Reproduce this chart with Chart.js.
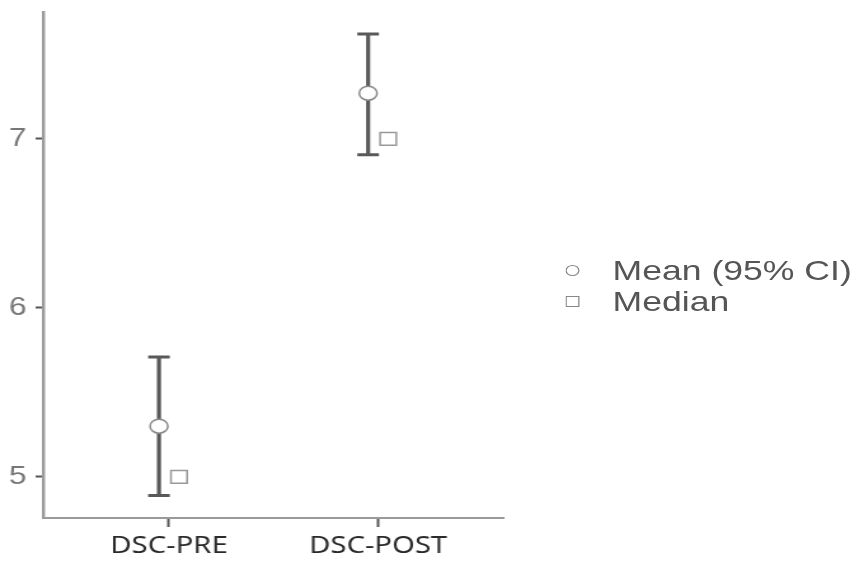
<!DOCTYPE html>
<html>
<head>
<meta charset="utf-8">
<script src="https://cdn.jsdelivr.net/npm/chart.js@4.4.1/dist/chart.umd.min.js"></script>
<style>
  html, body { margin: 0; padding: 0; background: #fff; overflow: hidden; }
  /* the reference picture is stretched horizontally, so draw narrow and stretch */
  #wrap { position: relative; width: 672px; height: 563px; transform: scaleX(1.2708); transform-origin: 0 0; }
  #legend { position: absolute; left: 445px; top: 255px; font-family: "Liberation Sans", Arial, sans-serif;
            font-size: 28px; color: #555; line-height: 31px; }
  .item { display: flex; align-items: center; white-space: nowrap; }
  .sym { width: 11px; height: 11px; border: 1.5px solid #888; box-sizing: border-box; margin-right: 26px; background: #fff; }
  .sym.circle { border-radius: 50%; }
</style>
</head>
<body>
<div id="wrap">
  <canvas id="chart" width="672" height="563"></canvas>
  <div id="legend"></div>
</div>
<script>
const categories = ['DSC-PRE', 'DSC-POST'];
const meanValues = [5.30, 7.27];
const ciLower = [4.89, 6.905];
const ciUpper = [5.71, 7.62];
const medianValues = [5, 7];
const yTickValues = [5, 6, 7];
const legendLabels = ['Mean (95% CI)', 'Median'];

const shift = 0.048; // mean drawn slightly left, median slightly right

const meanPoints = categories.map((c, i) => ({ x: i + 1 - shift, y: meanValues[i] }));
const medianPoints = categories.map((c, i) => ({ x: i + 1 + shift, y: medianValues[i] }));

// error bars for the 95% CI, drawn under the mean circles
const errorBars = {
    id: 'errorBars',
    beforeDatasetsDraw(chart) {
        const { ctx, scales: { x, y } } = chart;
        ctx.save();
        ctx.strokeStyle = '#595959';
        meanPoints.forEach((p, i) => {
            const px = x.getPixelForValue(p.x);
            const top = y.getPixelForValue(ciUpper[i]);
            const bot = y.getPixelForValue(ciLower[i]);
            ctx.lineWidth = 3.2;
            ctx.beginPath();
            ctx.moveTo(px, top);
            ctx.lineTo(px, bot);
            ctx.stroke();
            ctx.lineWidth = 3;
            ctx.beginPath();
            ctx.moveTo(px - 8.5, top);
            ctx.lineTo(px + 8.5, top);
            ctx.moveTo(px - 8.5, bot);
            ctx.lineTo(px + 8.5, bot);
            ctx.stroke();
        });
        ctx.restore();
    }
};

const chart = new Chart(document.getElementById('chart'), {
    type: 'scatter',
    data: {
        datasets: [{
            label: legendLabels[0],
            data: meanPoints,
            pointStyle: 'circle',
            pointRadius: 7,
            pointBackgroundColor: '#fff',
            pointBorderColor: '#8a8a8a',
            pointBorderWidth: 1.5
        }, {
            label: legendLabels[1],
            data: medianPoints,
            pointStyle: 'rect',
            pointRadius: 9,
            pointBackgroundColor: '#fff',
            pointBorderColor: '#999',
            pointBorderWidth: 1.5
        }]
    },
    options: {
        responsive: false,
        animation: false,
        devicePixelRatio: 1,
        layout: { padding: { top: 12, right: 276, left: 0, bottom: 0 } },
        plugins: {
            legend: { display: false },
            tooltip: { enabled: false }
        },
        scales: {
            x: {
                type: 'linear',
                min: 0.3985,
                max: 2.598,
                afterBuildTicks: s => { s.ticks = categories.map((c, i) => ({ value: i + 1 })); },
                afterFit: s => { s.height = 45; s.paddingLeft = 0; s.paddingRight = 0; },
                ticks: {
                    autoSkip: false,
                    maxRotation: 0,
                    padding: 6,
                    color: '#2a2a2a',
                    font: { family: '"Noto Sans", sans-serif', size: 23 },
                    callback: (v, i) => categories[i]
                },
                grid: { drawOnChartArea: false, tickLength: 9, tickColor: '#555', tickWidth: 2 },
                border: { color: '#9a9a9a', width: 2 }
            },
            y: {
                type: 'linear',
                min: 4.757,
                max: 7.75,
                afterBuildTicks: s => { s.ticks = yTickValues.map(v => ({ value: v })); },
                afterFit: s => { s.width = 34; s.paddingTop = 0; s.paddingBottom = 0; },
                ticks: {
                    padding: 7,
                    color: '#777',
                    font: { family: '"Liberation Sans", Arial, sans-serif', size: 25 }
                },
                grid: { drawOnChartArea: false, tickLength: 6, tickColor: '#555', tickWidth: 2 },
                border: { color: '#9a9a9a', width: 2.4 }
            }
        }
    },
    plugins: [errorBars]
});

// html legend
const legend = document.getElementById('legend');
legendLabels.forEach((label, i) => {
    const row = document.createElement('div');
    row.className = 'item';
    const sym = document.createElement('span');
    sym.className = 'sym' + (i === 0 ? ' circle' : '');
    const txt = document.createElement('span');
    txt.textContent = label;
    row.appendChild(sym);
    row.appendChild(txt);
    legend.appendChild(row);
});
</script>
</body>
</html>
